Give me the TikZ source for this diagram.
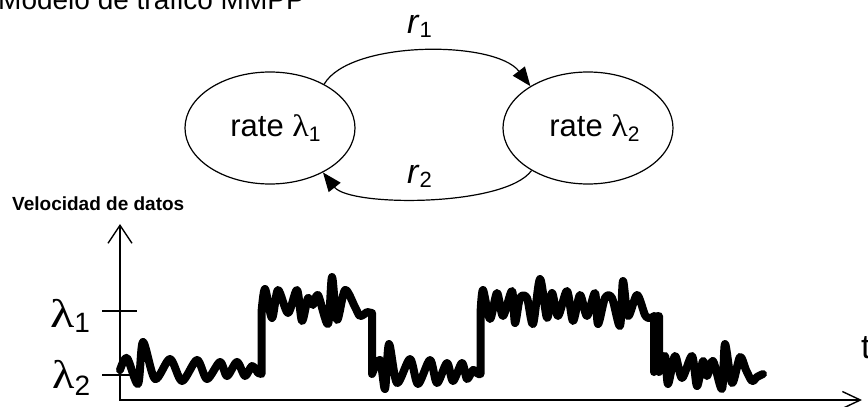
\documentclass[tikz,border=0pt]{standalone}
\usepackage{fontspec}
\setmainfont{Liberation Sans}
\newfontfamily\grkfont{Liberation Serif}
\usetikzlibrary{arrows.meta,shapes.geometric}
\begin{document}
\begin{tikzpicture}[x=1pt,y=-1pt,
  state/.style={draw, ellipse, line width=1.2pt, minimum width=170pt, minimum height=112pt, inner sep=0pt},
  lbl/.style={inner sep=0pt, anchor=base west, text=black},
  txt/.style={inner sep=0pt, text=black},
  arc/.style={line width=1.2pt, -{Triangle[length=19pt,width=15pt]}},
  sig/.style={line width=8pt, line join=round, line cap=round},
  axis/.style={line width=1.4pt},
  tickline/.style={line width=1.2pt}]
\useasboundingbox (0,0) rectangle (868,407);
\clip (0,0) rectangle (868,407);

% title (cut at top)
\node[lbl] (title) at (-2,9) {\fontsize{28}{30}\selectfont Modelo de tráfico MMPP};

% states
\node[state] (L) at (270,128) {};
\node[state] (R) at (588,128) {};
\node[txt] (Lt) at (275.5,128.5) {\fontsize{31}{33}\selectfont rate {\grkfont\scalebox{1.1}[1]{λ}}\raisebox{-5pt}{\fontsize{21}{22}\selectfont 1}};
\node[txt] (Rt) at (594.5,128.5) {\fontsize{31}{33}\selectfont rate {\grkfont\scalebox{1.1}[1]{λ}}\raisebox{-5pt}{\fontsize{21}{22}\selectfont 2}};

% transitions
\draw[arc] (L.39) .. controls (350,40) and (495,40) .. (R.144);
\draw[arc] (R.217) .. controls (505,207) and (350,207) .. (L.320);
\node[lbl] (r1) at (407,33) {\fontsize{34}{36}\selectfont\itshape r\/\raisebox{-4pt}{\upshape\fontsize{22}{24}\selectfont 1}};
\node[lbl] (r2) at (407,183) {\fontsize{34}{36}\selectfont\itshape r\/\raisebox{-4pt}{\upshape\fontsize{22}{24}\selectfont 2}};

% axis title
\node[lbl] (vel) at (12,210) {\fontsize{19}{20}\selectfont\bfseries Velocidad de datos};

% axes
\coordinate (O) at (120,400);
\coordinate (Ytop) at (120,224);
\coordinate (Xend) at (862,400);
\draw[axis, {Straight Barb[length=18pt,width=24pt]}-{Straight Barb[length=18pt,width=17pt]}] (Ytop) -- (O) -- (Xend);

% ticks
\coordinate (t1a) at (102,311); \coordinate (t1b) at (137,311);
\coordinate (t2a) at (102,375); \coordinate (t2b) at (137,375);
\draw[tickline] (t1a) -- (t1b);
\draw[tickline] (t2a) -- (t2b);
\node[lbl] (l1) at (50,327) {{\grkfont\fontsize{40}{42}\selectfont\scalebox{1.25}[1]{λ}}\raisebox{-5pt}{\fontsize{28}{30}\selectfont 1}};
\node[lbl] (l2) at (52,388) {{\grkfont\fontsize{40}{42}\selectfont\scalebox{1.15}[1]{λ}}\raisebox{-7pt}{\fontsize{28}{30}\selectfont 2}};
\node[lbl] (tl) at (861,358) {\fontsize{34}{36}\selectfont t};

% signal
\draw[sig] plot[smooth, tension=0.5] coordinates {(120,370) (127,358) (138,384) (143,342) (155,379) (170,359) (182,381) (197,360) (207,379) (220,362) (227,376) (237,362) (245,376) (252,366) (258,373)}
  -- (261.5,374) -- (261.5,312)
  -- plot[smooth, tension=0.5] coordinates {(261.5,312) (265,289) (272,318) (278,290) (288,313) (297,290) (302,321) (308,298) (313,305) (318,295) (328,324) (332,277) (337,320) (345,290) (355,307) (360,316) (367,312)}
  -- (372,313) -- (372,374)
  -- plot[smooth, tension=0.5] coordinates {(372,374) (380,360) (385,389) (389,344) (397,383) (410,359) (418,384) (430,360) (437,383) (447,363) (453,381) (462,363) (467,379) (473,370) (478,374)}
  -- (480.5,374) -- (480.5,313)
  -- plot[smooth, tension=0.5] coordinates {(480.5,313) (483,290) (490,319) (497,293) (503,316) (512,291) (515,323) (520,298) (527,298) (533,324) (540,279) (547,318) (552,293) (558,316) (567,291) (573,321) (580,295) (587,316) (595,293) (598,324) (605,298) (612,298) (620,326) (623,281) (628,316) (637,295) (645,315) (649,318)}
  -- (659,316) -- (659,372)
  -- plot[smooth, tension=0.5] coordinates {(659,372) (665,356) (668,384) (675,356) (682,378) (692,356) (697,386) (703,361) (707,376) (713,361) (722,389) (725,344) (732,383) (740,357) (746,370) (752,381) (757,377) (763,374)};
\draw[sig] (654,316) -- (654,372);
\end{tikzpicture}
\end{document}
